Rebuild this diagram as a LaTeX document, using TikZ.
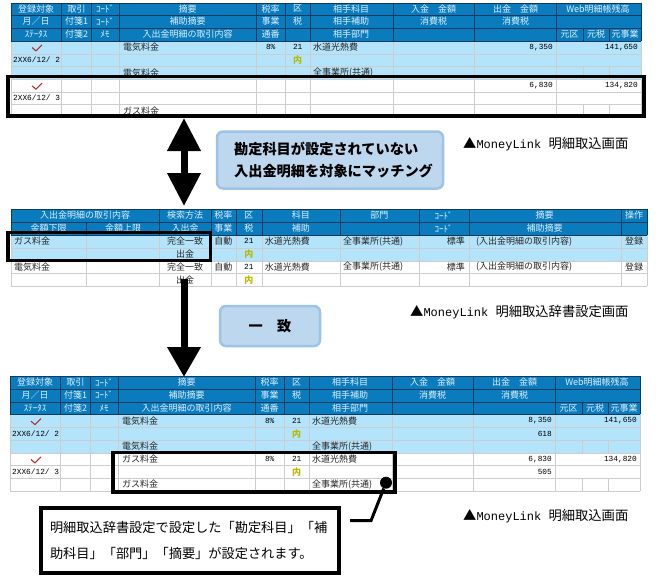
\documentclass[tikz,border=0pt]{standalone}
\usepackage{fontspec}
\setmainfont{Noto Sans CJK JP}
\newfontfamily\numfont{Liberation Mono}
\usetikzlibrary{arrows.meta}
\definecolor{headblue}{HTML}{0A7CBE}
\definecolor{headline}{HTML}{0B3C5D}
\definecolor{headtext}{HTML}{DCEFFB}
\definecolor{rowblue}{HTML}{B4E4FC}
\definecolor{gridgrey}{HTML}{CDCDCD}
\definecolor{calloutfill}{HTML}{BDD7EE}
\definecolor{calloutline}{HTML}{9DC3E6}
\definecolor{taxyellow}{HTML}{B9B900}
\definecolor{tickred}{HTML}{B5302C}
\tikzset{
  hd/.style={inner sep=0pt,text=headtext,font=\fontsize{9}{9}\selectfont},
  cell/.style={inner sep=0pt,text=black!85,font=\fontsize{9}{9}\selectfont},
  lcell/.style={cell,anchor=west},
  rcell/.style={inner sep=0pt,anchor=east,text=black,font=\numfont\fontsize{7.8}{9}\selectfont},
  numcell/.style={inner sep=0pt,text=black,font=\numfont\fontsize{7.8}{9}\selectfont},
  datecell/.style={numcell,anchor=west},
  taxcell/.style={inner sep=0pt,text=taxyellow,font=\fontsize{9}{9}\selectfont\bfseries},
  hilite/.style={draw=black,line width=3.5pt,inner sep=0pt,fill=none},
  callout/.style={draw=calloutline,fill=calloutfill,line width=2.5pt,rounded corners=6pt,inner sep=0pt,align=left,font=\fontsize{14.2}{22}\selectfont\bfseries},
  screenlabel/.style={inner sep=0pt,anchor=west,font=\fontsize{13.3}{15}\selectfont},
  bigarrow/.style={line width=7pt,black}
}
\newcommand{\regtick}[2]{\draw[tickred,line width=1.1pt] (#1-4,#2) -- (#1,#2+3.4) -- (#1+6,#2-2.6);}
\newcommand{\moneylink}{▲{\numfont\fontsize{12}{15}\selectfont MoneyLink }}
\newcommand{\regframe}[1]{
  \fill[headblue] (11,2.7) rectangle (641,40.7);
  \fill[rowblue] (11,40.7) rectangle (641,79.1);
  \fill[white] (11,79.1) rectangle (641,117.2);
  \foreach \cy in {53.7,66.4,79.1,91.8,104.5,117.2}
    \draw[gridgrey] (11,\cy) -- (641,\cy);
  \foreach \cx in {11,61.5,91.5,119,256,285.5,310,393,474.5,556.5,641}
    \draw[gridgrey] (\cx,40.7) -- (\cx,117.2);
  \foreach \cx in {583,609}
    \draw[gridgrey] (\cx,66.4) -- (\cx,79.1) (\cx,104.5) -- (\cx,117.2);
  \foreach \cy in {2.7,15,28,40.7}
    \draw[headline] (11,\cy) -- (641,\cy);
  \foreach \cx in {11,61.5,91.5,119,256,285.5,310,393,474.5,556.5,641}
    \draw[headline] (\cx,2.7) -- (\cx,40.7);
  \foreach \cx in {583,609}
    \draw[headline] (\cx,28) -- (\cx,40.7);
  \foreach \cx/\cy/\ct [count=\i] in {
    36/8.8/登録対象,76.5/8.8/取引,105/8.8/ｺｰﾄﾞ,187.5/8.8/摘要,270.7/8.8/税率,297.7/8.8/区,
    351/8.8/相手科目,433.7/8.8/入金　金額,515.5/8.8/出金　金額,598/8.8/Web明細帳残高,
    36/21.5/月／日,76.5/21.5/付箋1,105/21.5/ｺｰﾄﾞ,187.5/21.5/補助摘要,270.7/21.5/事業,297.7/21.5/税,
    351/21.5/相手補助,433.7/21.5/消費税,515.5/21.5/消費税,
    36/34.3/ｽﾃｰﾀｽ,76.5/34.3/付箋2,105/34.3/ﾒﾓ,187.5/34.3/入出金明細の取引内容,270.7/34.3/通番,
    351/34.3/相手部門,569.7/34.3/元区,596/34.3/元税,625/34.3/元事業}
    \node[hd] (#1h\i) at (\cx,\cy) {\ct};
  \regtick{36}{47.5}
  \regtick{36}{85.8}
  \node[lcell] (#1a) at (123,47.2) {電気料金};
  \node[numcell] (#1b) at (270.7,47.2) {8\%};
  \node[numcell] (#1c) at (297.7,47.2) {21};
  \node[lcell] (#1d) at (313,47.2) {水道光熱費};
  \node[rcell] (#1e) at (553,47.2) {8,350};
  \node[rcell] (#1f) at (638,47.2) {141,650};
  \node[datecell] (#1g) at (13,60) {2XX6/12/ 2};
  \node[taxcell] (#1i) at (297.7,60) {内};
  \node[lcell] (#1j) at (123,72.7) {電気料金};
  \node[lcell] (#1k) at (313,72.7) {全事業所(共通)};
  \node[rcell] (#1l) at (553,85.4) {6,830};
  \node[rcell] (#1m) at (638,85.4) {134,820};
  \node[datecell] (#1n) at (13,98.1) {2XX6/12/ 3};
  \node[lcell] (#1o) at (123,110.8) {ガス料金};
}
\begin{document}
\begin{tikzpicture}[x=1pt,y=-1pt]
  \useasboundingbox (0,0) rectangle (658,582);
  \fill[white] (0,0) rectangle (658,582);

  \begin{scope}
    \regframe{top}
  \end{scope}
  \node[hilite,minimum width=636.3pt,minimum height=39.6pt] (topbox) at (325.9,96.2) {};

  \fill[headblue] (11,208.7) rectangle (647,234.7);
  \fill[rowblue] (11,234.7) rectangle (647,260.7);
  \fill[white] (11,260.7) rectangle (647,286);
  \foreach \cy in {247.7,260.7,273.3,286}
    \draw[gridgrey] (11,\cy) -- (647,\cy);
  \foreach \cx in {11,86.5,159.5,210.7,236,261.7,340,418.7,468.7,620.7,647}
    \draw[gridgrey] (\cx,234.7) -- (\cx,286);
  \foreach \cy in {208.7,222,234.7}
    \draw[headline] (11,\cy) -- (647,\cy);
  \foreach \cx in {11,159.5,210.7,236,261.7,340,418.7,468.7,620.7,647}
    \draw[headline] (\cx,208.7) -- (\cx,234.7);
  \draw[headline] (86.5,222) -- (86.5,234.7);
  \foreach \cx/\cy/\ct [count=\i] in {
    85/215.3/入出金明細の取引内容,185/215.3/検索方法,223.3/215.3/税率,248.8/215.3/区,300.8/215.3/科目,379.3/215.3/部門,443.7/215.3/ｺｰﾄﾞ,544.7/215.3/摘要,634/215.3/操作,
    48.7/228.3/金額下限,123/228.3/金額上限,185/228.3/入出金,223.3/228.3/事業,248.8/228.3/税,300.8/228.3/補助,443.7/228.3/ｺｰﾄﾞ,544.7/228.3/補助摘要}
    \node[hd] (midh\i) at (\cx,\cy) {\ct};
  \foreach \cy/\ci in {241.2/a,267/b} {
    \node[lcell] (mid\ci c) at (343,\cy) {全事業所(共通)};
    \node[cell] (mid\ci d) at (223.3,\cy) {自動};
    \node[numcell] (mid\ci e) at (248.8,\cy) {21};
    \node[lcell] (mid\ci f) at (264.7,\cy) {水道光熱費};
    \node[cell,anchor=east] (mid\ci g) at (465,\cy) {標準};
    \node[lcell] (mid\ci h) at (476,\cy) {(入出金明細の取引内容)};
    \node[cell] (mid\ci i) at (634,\cy) {登録};
    \node[cell] (mid\ci j) at (185,\cy) {完全一致};
  }
  \node[lcell] (midaa) at (14,241.2) {ガス料金};
  \node[lcell] (midba) at (14,267) {電気料金};
  \foreach \cy/\ci in {254.2/a,279.7/b} {
    \node[cell] (mid\ci k) at (185,\cy) {出金};
    \node[taxcell] (mid\ci l) at (248.8,\cy) {内};
  }
  \node[hilite,minimum width=202.5pt,minimum height=27.8pt] (midbox) at (109,246.4) {};

  \begin{scope}[shift={(-1,373.7)}]
    \regframe{low}
    \node[lcell] (lowp) at (123,85.4) {ガス料金};
    \node[numcell] (lowq) at (270.7,85.4) {8\%};
    \node[numcell] (lowr) at (297.7,85.4) {21};
    \node[lcell] (lows) at (313,85.4) {水道光熱費};
    \node[rcell] (lowt) at (553,60) {618};
    \node[taxcell] (lowu) at (297.7,98.1) {内};
    \node[rcell] (lowv) at (553,98.1) {505};
    \node[lcell] (loww) at (313,110.8) {全事業所(共通)};
  \end{scope}
  \node[hilite,minimum width=282pt,minimum height=39.2pt] (lowbox) at (254.2,472.3) {};

  \coordinate (arrowtop) at (184,118);
  \coordinate (arrowbot) at (184,206);
  \coordinate (matchtop) at (184,279);
  \coordinate (matchbot) at (184,377);
  \draw[bigarrow,{Triangle[length=33pt,width=32pt]}-{Triangle[length=33pt,width=32pt]}] (arrowtop) -- (arrowbot);
  \draw[bigarrow,-{Triangle[length=30pt,width=32pt]}] (matchtop) -- (matchbot);

  \node[callout,minimum width=226pt,minimum height=57pt] (matchnote) at (330,160) {\hspace*{7pt}勘定科目が設定されていない\\\hspace*{7pt}入出金明細を対象にマッチング};
  \node[callout,minimum width=100pt,minimum height=40pt,align=center] (samenote) at (270,326) {一　致};

  \node[screenlabel] (topscreen) at (463,144) {\moneylink 明細取込画面};
  \node[screenlabel] (midscreen) at (410,312) {\moneylink 明細取込辞書設定画面};
  \node[screenlabel] (lowscreen) at (463,516) {\moneylink 明細取込画面};

  \node[draw=black,fill=white,line width=3.5pt,minimum width=298pt,minimum height=65pt,inner sep=0pt,align=left,font=\fontsize{13.2}{26}\selectfont,text width=280pt] (setnote) at (190,540.5)
    {明細取込辞書設定で設定した「勘定科目」「補\\助科目」「部門」「摘要」が設定されます。};
  \node[circle,fill=black,minimum size=12pt,inner sep=0pt] (enddot) at (386,482.7) {};
  \coordinate (leadstart) at (350,520.7);
  \draw[line width=3pt] (leadstart) -- (371,520.7) -- (enddot);
\end{tikzpicture}
\end{document}
